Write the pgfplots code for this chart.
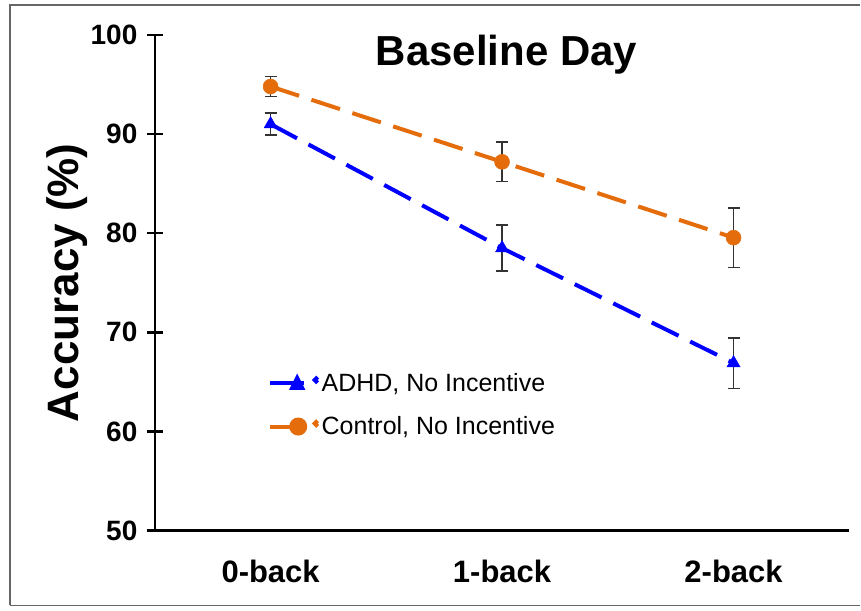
\documentclass[border=0pt]{standalone}
\usepackage{fontspec}
\setmainfont{Liberation Sans}
\usepackage{pgfplots}
\pgfplotsset{compat=1.18}
\usetikzlibrary{calc}
\definecolor{adhd}{RGB}{0,0,255}
\definecolor{ctrl}{RGB}{228,108,10}

\begin{document}
\begin{tikzpicture}
\begin{axis}[
  width=695pt, height=496pt,
  scale only axis,
  xmin=-0.5, xmax=2.5,
  ymin=50, ymax=100,
  axis x line=bottom, axis y line=left,
  axis line style={line width=2.5pt, -},
  xtick={0,1,2},
  xticklabels={0-back,1-back,2-back},
  x tick style={draw=none},
  ytick={50,60,70,80,90,100},
  y tick style={line width=2.5pt, black},
  tick align=center,
  major tick length=16pt,
  /pgf/number format/assume math mode=true,
  xticklabel style={font=\bfseries\fontsize{31}{31}\selectfont, yshift=-18pt},
  yticklabel style={font=\bfseries\fontsize{28}{28}\selectfont, xshift=-6pt},
  ylabel={Accuracy (\%)},
  ylabel style={font=\bfseries\fontsize{44}{44}\selectfont, yshift=-4pt},
  legend style={draw=none, fill=none, at={(rel axis cs:0.163,0.322)},
    anchor=north west, inner sep=0pt, row sep=20pt,
    font=\fontsize{25}{25}\selectfont},
  legend cell align=left,
  clip=false]

\coordinate (O) at (rel axis cs:0,0);

\addplot[adhd, line width=4pt, dash pattern=on 30pt off 13pt,
  mark=triangle*, mark size=7.5pt, mark options={solid, line width=0.5pt},
  error bars/.cd, y dir=both, y explicit,
  error bar style={black!80, line width=1.6pt, solid},
  error mark options={rotate=90, mark size=6pt, line width=1.6pt, black!80},
  /pgfplots/legend image code/.code={
    \draw[solid, line width=4pt] (0pt,0pt) -- (34pt,0pt);
    \fill[solid] (22pt,-5pt) -- (32pt,-5pt) -- (27pt,5pt) -- cycle;
    \fill (46pt,3pt) circle (1.5pt);}]
  coordinates {(0,91.0) +- (0,1.1) (1,78.5) +- (0,2.3) (2,66.9) +- (0,2.55)};
\addlegendentry{ADHD, No Incentive}

\addplot[ctrl, line width=4pt, dash pattern=on 30pt off 13pt,
  mark=*, mark size=7.5pt, mark options={solid, line width=0.5pt},
  error bars/.cd, y dir=both, y explicit,
  error bar style={black!80, line width=1.6pt, solid},
  error mark options={rotate=90, mark size=6pt, line width=1.6pt, black!80},
  /pgfplots/legend image code/.code={
    \draw[solid, line width=4pt] (0pt,0pt) -- (34pt,0pt);
    \fill[solid] (28pt,0pt) circle (7pt);
    \fill (46pt,3pt) circle (1.5pt);}]
  coordinates {(0,94.8) +- (0,1.0) (1,87.2) +- (0,2.0) (2,79.55) +- (0,3.0)};
\addlegendentry{Control, No Incentive}

\node[anchor=base, font=\bfseries\fontsize{42}{42}\selectfont]
  at (rel axis cs:0.5065,0.9375) {Baseline Day};
\end{axis}
\draw[black!60, line width=1.5pt] ($(O)+(-145pt,-75pt)$) -- ($(O)+(-145pt,526pt)$) -- ($(O)+(706pt,526pt)$);
\draw[black!60, line width=1.5pt] ($(O)+(-145pt,-75pt)$) -- ($(O)+(706pt,-75pt)$);
\useasboundingbox ($(O)+(-155pt,-80pt)$) rectangle ($(O)+(706pt,531pt)$);
\end{tikzpicture}
\end{document}
